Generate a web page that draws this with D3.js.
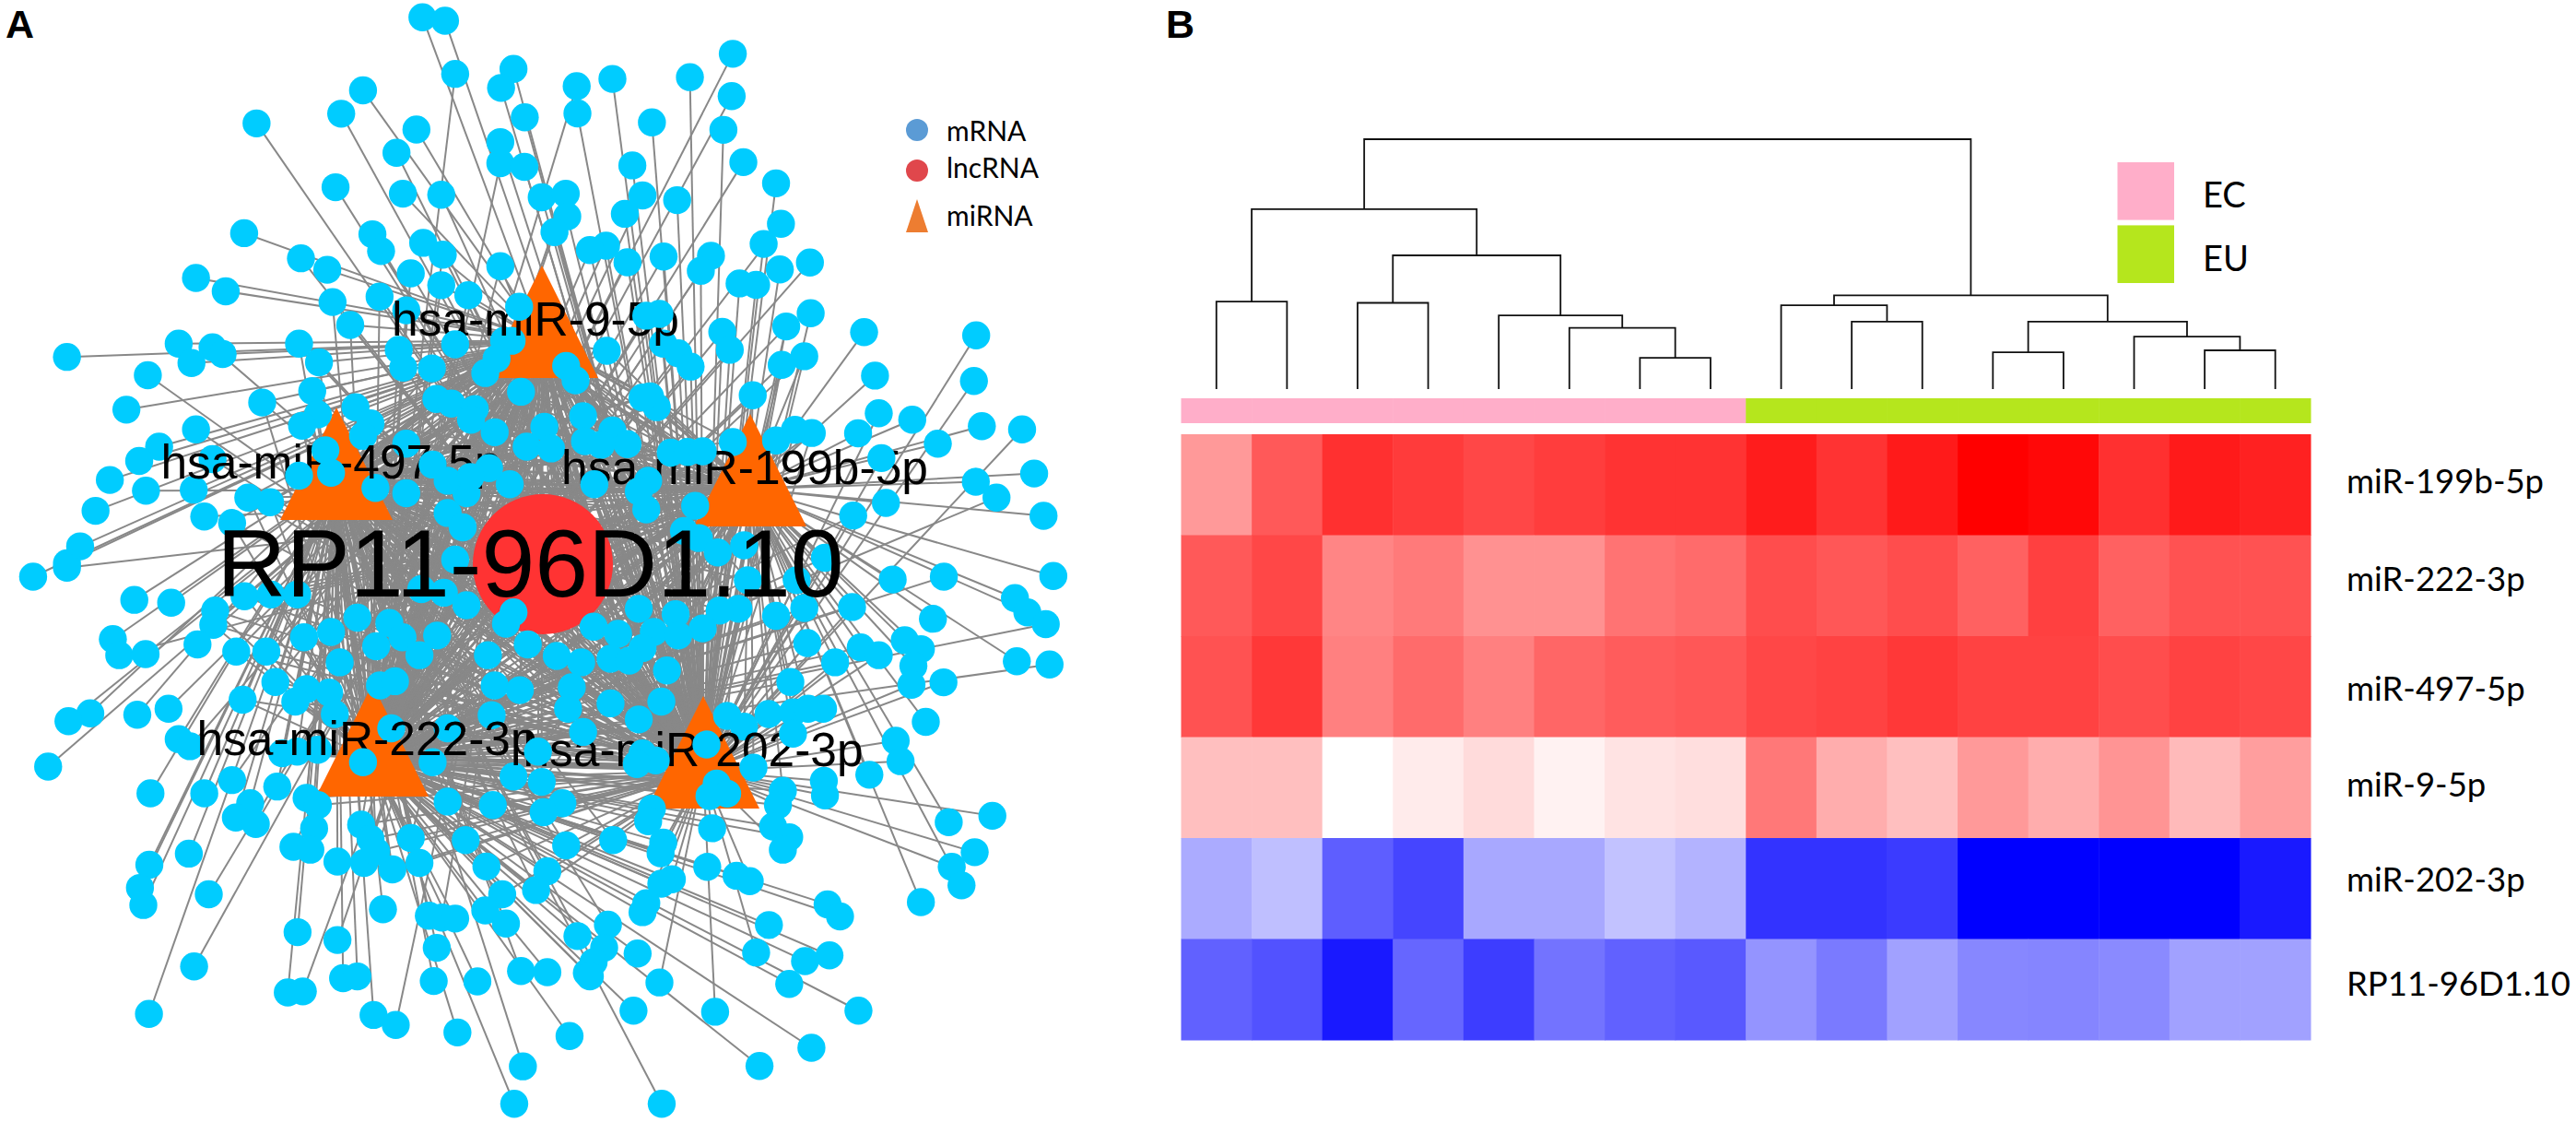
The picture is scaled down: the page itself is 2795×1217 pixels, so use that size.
<!DOCTYPE html>
<html><head><meta charset="utf-8">
<script src="https://cdn.jsdelivr.net/npm/d3@7/dist/d3.min.js"></script>
<style>html,body{margin:0;background:#fff}svg{display:block}</style></head>
<body><div id="c"></div>
<script>
// ---------- Panel A data: node layout, per quadrant of the network ----------
const nwNodes=[[1123,48],[1183,58],[1210,206],[1365,192],[1332,245],[1533,240],[1535,316],[1395,327],[965,252],[907,317],[682,344],[1107,361],[1054,426],[1330,396],[1330,455],[1394,465],[892,522],[1071,540],[1173,543],[1440,550],[1504,540],[1508,603],[1474,647],[649,650],[990,653],[1013,700],[1125,677],[1177,710],[800,720],[870,752],[1092,762],[1330,742],[1173,795],[521,775],[600,812],[1245,823],[1009,827],[884,842],[931,906],[1080,865],[475,958],[565,968],[592,987],[509,1012],[795,958],[848,1010],[1060,975],[1340,950],[1360,950],[178,995],[393,1046],[1072,1025],[1148,1027],[1290,1040],[1320,1000],[830,1090],[1385,1092],[336,1142],[697,1122],[1160,1112],[1200,1125],[1262,1140],[1252,1170],[1315,1205],[1447,1190],[1400,1245],[1465,1250],[1550,1160],[1555,1230],[845,1155],[803,1187],[945,1135],[985,1180],[965,1215],[521,1197],[423,1245],[370,1285],[565,1280],[1080,1237],[292,1338],[388,1368],[515,1365],[660,1387],[718,1400],[998,1360],[1080,1375],[1240,1375],[1355,1350],[254,1424],[543,1440],[617,1458],[1190,1430],[1230,1470],[213,1523],[178,1570],[1505,1020],[1530,1060],[1210,1560]];
const nwFront=[[1380,855],[1210,960],[865,1255],[880,1318],[795,1326],[1150,1295],[1300,1305],[1190,1340],[1250,1330]];
const neNodes=[[380,150],[60,220],[266,215],[377,268],[165,341],[355,362],[408,452],[113,461],[495,511],[140,545],[232,558],[93,596],[508,624],[462,680],[43,685],[0,697],[100,731],[196,715],[322,713],[295,755],[505,751],[585,732],[398,790],[442,794],[587,873],[522,910],[729,926],[1027,935],[352,925],[372,975],[45,978],[195,958],[235,985],[268,1022],[570,993],[510,1017],[1021,1062],[758,1047],[433,1102],[160,1105],[178,1135],[140,1108],[768,1152],[857,1170],[1042,1188],[1149,1197],[713,1208],[925,1237],[545,1198],[590,1207],[495,1228],[380,1232],[60,1200],[100,1238],[30,1240],[1181,1320],[1026,1343],[1081,1387],[787,1402],[1206,1438],[700,1437],[150,1420],[280,1410],[250,1480],[290,1500],[410,1520],[340,1540],[625,1555]];
const neFront=[[185,875],[150,880],[775,1277],[215,1262],[260,1260],[300,1258],[155,1340],[130,1370],[12,1350]];
const swNodes=[[88,40],[178,15],[357,105],[455,113],[572,135],[567,175],[650,95],[720,90],[790,90],[300,215],[317,260],[387,257],[525,230],[628,250],[708,250],[808,210],[880,195],[950,155],[1035,170],[1000,235],[1070,210],[1115,260],[1162,205],[1240,120],[1180,85],[1120,75],[1365,140],[1345,172],[1403,230],[1297,260],[1480,262],[1545,280],[903,280],[1010,345],[1050,333],[1315,345],[1382,358],[1520,350],[732,335],[645,385],[815,355],[785,390],[875,365],[890,425],[1307,428],[1510,410],[448,410],[365,427],[240,423],[182,445],[1040,465],[475,495],[505,515],[750,535],[790,530],[845,525],[1150,560],[1190,465],[128,572],[400,647],[543,647],[617,610],[737,628],[815,660],[845,680],[1190,670],[1310,680],[1365,600],[1440,615],[1495,675],[1445,700],[665,675],[627,715],[680,733],[835,745],[960,735],[985,775],[1092,772],[1238,778],[1505,793],[502,816],[397,847],[780,797],[825,805],[897,838],[968,842],[1043,860],[1115,842],[1000,810],[1293,852],[1455,865],[1425,918],[372,912],[381,960],[555,930],[1335,930],[1290,975],[1345,1012],[1018,972],[1140,990],[1175,995],[1210,998],[791,1036],[897,1058],[1535,1047],[1161,1080],[1385,1145],[1455,1148],[1560,1150],[516,1132],[912,1165],[950,1160],[1153,1173],[1269,1174],[765,1205],[805,1202],[396,1265],[993,1268],[1052,1296],[1216,1317],[1514,1327],[1390,1412],[1367,1517]];
const swFront=[[965,560],[1430,530],[1550,475]];
const seNodes=[[1232,38],[941,40],[805,48],[420,50],[550,50],[1130,100],[1163,140],[1212,173],[697,125],[912,158],[395,130],[345,135],[570,128],[495,150],[228,145],[130,130],[10,180],[75,200],[170,195],[300,185],[235,205],[140,240],[55,270],[105,275],[205,303],[578,226],[720,238],[768,260],[652,280],[837,218],[880,243],[860,290],[855,343],[1135,277],[1222,286],[940,336],[533,335],[190,390],[55,395],[130,440],[365,430],[410,460],[475,425],[540,420],[620,410],[580,410],[893,447],[813,500],[826,557],[743,595],[622,612],[625,653],[513,640],[500,680],[337,620],[318,655],[365,648],[165,690],[155,725],[487,740],[530,770],[513,805],[325,745],[1070,710],[954,728],[1023,812],[962,853],[988,905],[195,785],[188,815],[62,778],[312,853],[390,878],[425,893],[218,888],[190,900],[880,952],[632,958],[665,992],[150,955],[140,980],[476,1016],[48,1015],[38,1080],[127,1096],[442,1093],[637,1101],[572,1117],[10,1120],[0,1160],[530,1181],[185,1177],[116,1256],[714,1256],[333,1259],[589,1360],[451,1411],[191,1517]];
const seFront=[[310,510],[435,575],[540,480],[140,535],[175,555],[125,565]];

const miRNAs=["hsa-miR-9-5p","hsa-miR-497-5p","hsa-miR-199b-5p","hsa-miR-222-3p","hsa-miR-202-3p"];
const miRNAx=[588,365,814,404,763];
const miRNAbase=[410,564,571,864,877];
const labelX=[581,359,808,398,752];
const labelY=[364,519,525,819,831];
const lncRNA={name:"RP11-96D1.10",x:589,y:612};
// for each 30-degree sector round the lncRNA (clockwise from north): miRNAs its mRNA lines head for
const sectorTargets=[[4,3],[4,3],[2,4],[2,3],[4,2],[3,4],[3,1],[1,0],[1,0],[0,2],[0,4],[4,0]];
const legendA=["mRNA","lncRNA","miRNA"];

// ---------- Panel B data ----------
const rowLabels=["miR-199b-5p","miR-222-3p","miR-497-5p","miR-9-5p","miR-202-3p","RP11-96D1.10"];
const r199=[.40,.65,.81,.77,.72,.76,.80,.80,.89,.80,.90,1,.97,.81,.90,.87];
const r222=[.65,.72,.48,.52,.43,.43,.55,.58,.70,.66,.70,.62,.75,.62,.68,.68];
const r497=[.68,.78,.50,.58,.50,.60,.64,.66,.72,.74,.78,.74,.74,.70,.74,.72];
const r9=[.25,.25,0,.08,.14,.05,.11,.13,.53,.32,.25,.40,.32,.42,.27,.38];
const r202=[-.33,-.25,-.63,-.73,-.34,-.34,-.24,-.30,-.80,-.80,-.77,-1,-1,-1,-1,-.90];
const rRP=[-.62,-.68,-.90,-.60,-.76,-.55,-.62,-.65,-.42,-.52,-.37,-.47,-.48,-.46,-.37,-.37];
const heat=[r199,r222,r497,r9,r202,rRP];
const groups=["EC","EC","EC","EC","EC","EC","EC","EC","EU","EU","EU","EU","EU","EU","EU","EU"];
const groupNames=["EC","EU"];
const groupColors=["#ffaec9","#b5e61d"];
// dendrogram: [left, right, merge distance]; leaves are sample indices
const dendro=[[[0,1,35],[[2,3,34.5],[4,[5,[6,7,12.5],24.5],29.5],53.5],72],[[8,[9,10,27],33.5],[[11,12,14.7],[13,[14,15,15.5],21],27],37.5],100];

const W=2795,H=1217;
const svg=d3.select("#c").append("svg").attr("width",W).attr("height",H).attr("viewBox",`0 0 ${W} ${H}`);

// Panel A -------------------------------------------------
const R=15.2, triHalf=61, triH=122;
const tile=(nodes,x0,y0,yk)=>{
  const sx=d3.scaleLinear().domain([0,1568]).range([x0,x0+640]);
  const sy=d3.scaleLinear().domain([0,1568]).range([y0,y0+1568/yk]);
  return nodes.map(d=>({x:sx(d[0]),y:sy(d[1])}));
};
const back=[...tile(nwNodes,0,0,2.57),...tile(neNodes,640,0,2.57),...tile(swNodes,0,610,2.583),...tile(seNodes,640,610,2.583)];
const front=[...tile(nwFront,0,0,2.57),...tile(neFront,640,0,2.57),...tile(swFront,0,610,2.583),...tile(seFront,640,610,2.583)];
const all=[...back,...front];
const hubs=miRNAs.map((n,i)=>({name:n,x:miRNAx[i],y:miRNAbase[i]-triH/3,base:miRNAbase[i],lx:labelX[i],ly:labelY[i]}));
const links=[];
all.forEach((n,i)=>{
  const dx=n.x-lncRNA.x,dy=n.y-lncRNA.y;
  const ang=(Math.atan2(dx,-dy)*180/Math.PI+375)%360;
  const t=sectorTargets[Math.floor(ang/30)%12];
  const dist=Math.hypot(dx,dy);
  const pick=new Set([t[i%3===2?1:0]]);
  if(dist<340)pick.add(t[i%3===2?0:1]);
  if(dist<370){pick.add(3);pick.add(4);}
  if(dist<250){pick.add(0);pick.add(1);pick.add(2);}
  pick.forEach(h=>links.push([n,hubs[h]]));
});
hubs.forEach(h=>links.push([lncRNA,h]));
svg.append("g").attr("stroke","#888").attr("stroke-width",2).selectAll("line").data(links).join("line")
  .attr("x1",d=>d[0].x).attr("y1",d=>d[0].y).attr("x2",d=>d[1].x).attr("y2",d=>d[1].y);
const tri=d3.line();
svg.append("g").selectAll("path").data(hubs).join("path").attr("fill","#ff6600")
  .attr("d",d=>tri([[d.x,d.base-triH],[d.x+triHalf,d.base],[d.x-triHalf,d.base]])+"Z");
svg.append("circle").attr("cx",lncRNA.x).attr("cy",lncRNA.y).attr("r",76).attr("fill","#ff3333");
const nodeDots=(g,data)=>g.selectAll("circle").data(data).join("circle").attr("cx",d=>d.x).attr("cy",d=>d.y).attr("r",R).attr("fill","#00ccff");
nodeDots(svg.append("g"),back);
svg.append("g").attr("font-family","'Liberation Sans',Arial,sans-serif").attr("font-size",51.5).attr("fill","#000")
  .selectAll("text").data(hubs).join("text").attr("x",d=>d.lx).attr("y",d=>d.ly).attr("text-anchor","middle").text(d=>d.name);
nodeDots(svg.append("g"),front);
svg.append("text").attr("x",575.5).attr("y",647).attr("text-anchor","middle").attr("font-family","'Liberation Sans',Arial,sans-serif").attr("font-size",104).attr("fill","#000").text(lncRNA.name);

// legend A
const lg=svg.append("g");
lg.append("circle").attr("cx",995).attr("cy",141).attr("r",12).attr("fill","#5b9bd5");
lg.append("circle").attr("cx",995).attr("cy",185).attr("r",12).attr("fill","#e0474c");
lg.append("path").attr("d",tri([[995,216],[1007,252],[983,252]])+"Z").attr("fill","#ed7d31");
const legY=[152.5,192.6,245];
lg.selectAll("text").data(legendA).join("text").attr("x",1027).attr("y",(d,i)=>legY[i]).attr("font-family","Lato,sans-serif").attr("font-size",30).attr("fill","#000").text(d=>d);

// panel letters
svg.selectAll("text.panel").data([["A",6],["B",1265]]).join("text").attr("class","panel").attr("x",d=>d[1]).attr("y",41)
  .attr("font-family","'Liberation Sans',Arial,sans-serif").attr("font-weight","bold").attr("font-size",43).text(d=>d[0]);

// Panel B -------------------------------------------------
const x=d3.scaleBand().domain(d3.range(16)).range([1281.5,2507]);
const y=d3.scaleBand().domain(rowLabels).range([471,1128]);
const col=d3.scaleLinear().domain([-1,0,1]).range(["#0000ff","#ffffff","#ff0000"]);
const cells=heat.flatMap((r,i)=>r.map((v,j)=>({row:rowLabels[i],col:j,v})));
svg.append("g").selectAll("rect").data(cells).join("rect").attr("x",d=>x(d.col)).attr("y",d=>y(d.row))
  .attr("width",x.bandwidth()+.5).attr("height",y.bandwidth()+.5).attr("fill",d=>col(d.v));
svg.append("g").selectAll("rect").data(groups).join("rect").attr("x",(d,i)=>x(i)).attr("y",432).attr("width",x.bandwidth()+.5).attr("height",27)
  .attr("fill",d=>groupColors[groupNames.indexOf(d)]);
const labelDy=[9,6,15,10,3,7];
svg.append("g").selectAll("text").data(rowLabels).join("text").attr("x",2546).attr("y",(d,i)=>y(d)+y.bandwidth()/2+labelDy[i])
  .attr("font-family","Lato,sans-serif").attr("font-size",36.5).attr("fill","#000").text(d=>d);

const hScale=d3.scaleLinear().domain([0,100]).range([422,151]);
const root=d3.hierarchy(dendro,d=>Array.isArray(d)?d.slice(0,2):null);
const pos=n=>{
  if(!n.children){n.px=x(n.data)+x.bandwidth()/2;n.py=hScale(0);return;}
  n.children.forEach(pos);
  n.px=d3.mean(n.children,c=>c.px);n.py=hScale(n.data[2]);
};
pos(root);
svg.append("g").attr("fill","none").attr("stroke","#111").attr("stroke-width",1.8).selectAll("path")
  .data(root.descendants().filter(n=>n.children)).join("path")
  .attr("d",n=>{const [a,b]=n.children;return `M${a.px},${a.py}V${n.py}H${b.px}V${b.py}`;});

const ly=d3.scaleBand().domain(groupNames).range([176,307]).paddingInner(.085);
svg.append("g").selectAll("rect").data(groupNames).join("rect").attr("x",2297.5).attr("width",61.5).attr("y",d=>ly(d)).attr("height",ly.bandwidth()).attr("fill",(d,i)=>groupColors[i]);
svg.append("g").selectAll("text").data(groupNames).join("text").attr("x",2390).attr("y",d=>ly(d)+ly.bandwidth()/2+18)
  .attr("font-family","Lato,sans-serif").attr("font-size",38).attr("fill","#000").text(d=>d);
</script></body></html>
